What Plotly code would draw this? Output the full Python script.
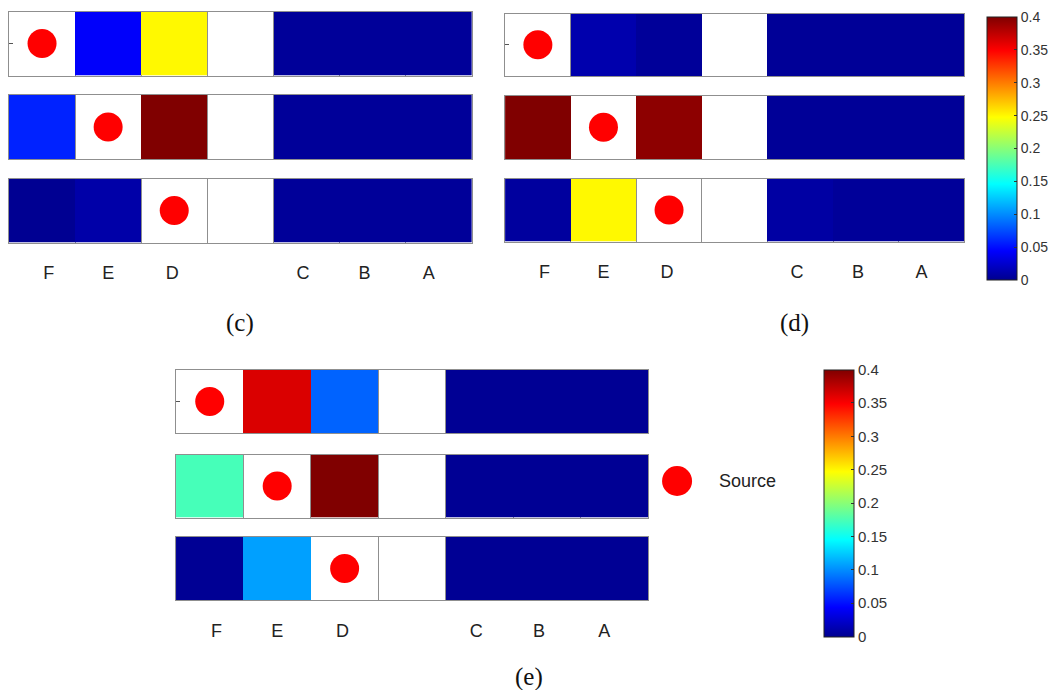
import plotly.graph_objects as go

# page body adds an 8 px margin on every side, so the figure is drawn 8 px in from the window corner
OFF = 8
W, H = 1060 - 2 * OFF, 698 - 2 * OFF

# ---------------- data ----------------
cells = ["F", "E", "D", "", "C", "B", "A"]          # cell order in every row
panel_names = ["(c)", "(d)", "(e)"]
source_cell = ["F", "E", "D"]                         # source location for rows 1..3

# concentration values per row (None = empty / source cell, drawn white)
c_row1 = [None, 0.043, 0.25, None, 0.004, 0.004, 0.004]
c_row2 = [0.058, None, 0.40, None, 0.004, 0.004, 0.004]
c_row3 = [0.001, 0.010, None, None, 0.004, 0.004, 0.004]

d_row1 = [None, 0.012, 0.004, None, 0.003, 0.003, 0.003]
d_row2 = [0.40, None, 0.395, None, 0.003, 0.003, 0.003]
d_row3 = [0.006, 0.25, None, None, 0.008, 0.004, 0.004]

e_row1 = [None, 0.364, 0.084, None, 0.002, 0.002, 0.002]
e_row2 = [0.174, None, 0.40, None, 0.002, 0.002, 0.002]
e_row3 = [0.002, 0.108, None, None, 0.002, 0.002, 0.002]

cbar_vals = [0, 0.05, 0.1, 0.15, 0.2, 0.25, 0.3, 0.35, 0.4]
cbar_text = ["0", "0.05", "0.1", "0.15", "0.2", "0.25", "0.3", "0.35", "0.4"]
cmin, cmax = 0.0, 0.4

panel_rows = [[c_row1, c_row2, c_row3], [d_row1, d_row2, d_row3], [e_row1, e_row2, e_row3]]

# ---------------- style / layout ----------------
jet = [[0.0, "rgb(0,0,143)"], [0.111, "rgb(0,0,255)"], [0.365, "rgb(0,255,255)"],
       [0.619, "rgb(255,255,0)"], [0.873, "rgb(255,0,0)"], [1.0, "rgb(128,0,0)"]]

# positions below are in window pixels
PANEL_X = [(9, 473), (506.5, 967), (176.5, 650)]
PANEL_ROWS_Y = [
    [(11.5, 75.5), (95, 159), (178.5, 242.5)],
    [(13.5, 76), (95.5, 159), (178.5, 241.5)],
    [(370, 433), (454.5, 517.5), (537, 600)],
]
CAPTION_POS = [(241, 323), (797, 323), (530, 677)]
LABEL_SHIFT = [0.1, 0.0, -0.03, 0, -0.05, -0.12, -0.15]   # visual nudges of the letter labels
FRAME = "#8f8f8f"
FONT = "Arial, Liberation Sans, Helvetica, sans-serif"
SERIF = "Times New Roman, Liberation Serif, serif"


def fx(a):
    return (a - OFF) / W


def fy(a):
    return 1 - (a - OFF) / H


def px_x(a, b):
    return [fx(a), fx(b)]


def px_y(a, b):
    return [fy(b), fy(a)]


fig = go.Figure()
layout = {}
k = 0
xi = list(range(len(cells)))
for p, rows in enumerate(panel_rows):
    for r, zrow in enumerate(rows):
        k += 1
        sfx = "" if k == 1 else str(k)
        fig.add_trace(go.Heatmap(
            z=[zrow], x=xi, y=[0],
            coloraxis="coloraxis" if p < 2 else "coloraxis2",
            xaxis="x" + sfx, yaxis="y" + sfx, hoverongaps=False,
        ))
        si = cells.index(source_cell[r])
        fig.add_trace(go.Scatter(
            x=[xi[si]], y=[0], mode="markers",
            marker=dict(size=29, color="rgb(255,0,0)"),
            xaxis="x" + sfx, yaxis="y" + sfx, showlegend=False, hoverinfo="skip",
        ))
        bottom = (r == 2)
        tv = [i + LABEL_SHIFT[i] for i, c in enumerate(cells) if c]
        tt = [c for c in cells if c]
        layout["xaxis" + sfx] = dict(
            domain=px_x(*PANEL_X[p]), anchor="y" + sfx, range=[-0.5, 6.5],
            showgrid=False, zeroline=False, showline=True, mirror=True,
            linecolor=FRAME, linewidth=1,
            tickmode="array", tickvals=tv if bottom else [],
            ticktext=tt if bottom else [], ticks="",
            ticklabelstandoff=14,
            tickfont=dict(family=FONT, size=18, color="#222"),
            minor=dict(tickmode="array", tickvals=[i + 0.5 for i in xi[:-1]],
                       showgrid=True, gridcolor=FRAME, gridwidth=1, ticks=""),
            fixedrange=True,
        )
        layout["yaxis" + sfx] = dict(
            domain=px_y(*PANEL_ROWS_Y[p][r]), anchor="x" + sfx, range=[-0.5, 0.5],
            showgrid=False, zeroline=False, showline=True, mirror=True,
            linecolor=FRAME, linewidth=1, showticklabels=False,
            tickmode="array", tickvals=[0] if r == 0 else [],
            ticks="inside", ticklen=4, tickcolor="#555", fixedrange=True,
        )

# legend entry "Source" (drawn on its own hidden axis)
k += 1
sfx = str(k)
fig.add_trace(go.Scatter(x=[0], y=[0], mode="markers",
                         marker=dict(size=30, color="rgb(255,0,0)"),
                         xaxis="x" + sfx, yaxis="y" + sfx, showlegend=False, hoverinfo="skip"))
layout["xaxis" + sfx] = dict(domain=px_x(659, 699), anchor="y" + sfx, range=[-1, 1], visible=False)
layout["yaxis" + sfx] = dict(domain=px_y(461, 501), anchor="x" + sfx, range=[-1, 1], visible=False)

annotations = [dict(text="Source", x=fx(719), y=fy(481), xref="paper", yref="paper",
                    xanchor="left", yanchor="middle", showarrow=False,
                    font=dict(family=FONT, size=18, color="#222"))]
for name, (cx, cy) in zip(panel_names, CAPTION_POS):
    annotations.append(dict(text=name, x=fx(cx), y=fy(cy), xref="paper", yref="paper",
                            xanchor="center", yanchor="middle", showarrow=False,
                            font=dict(family=SERIF, size=25, color="#111")))


def cbar(x0, y0, y1, fs):
    return dict(
        x=fx(x0), xanchor="left", xpad=0, y=fy(y0), yanchor="top", ypad=0,
        len=(y1 - y0), lenmode="pixels", thickness=30, thicknessmode="pixels",
        outlinecolor="#222", outlinewidth=1,
        tickmode="array", tickvals=cbar_vals, ticktext=cbar_text,
        ticks="inside", ticklen=3, tickcolor="#333", ticklabeloverflow="allow",
        tickfont=dict(family=FONT, size=fs, color="#333"),
    )


layout.update(
    width=W, height=H,
    margin=dict(l=0, r=0, t=0, b=0),
    paper_bgcolor="white", plot_bgcolor="white",
    showlegend=False,
    coloraxis=dict(colorscale=jet, cmin=cmin, cmax=cmax, colorbar=cbar(990, 17, 280, 14)),
    coloraxis2=dict(colorscale=jet, cmin=cmin, cmax=cmax, colorbar=cbar(826, 369.5, 636, 15)),
    annotations=annotations,
)
fig.update_layout(**layout)
fig.write_html("out.html")
